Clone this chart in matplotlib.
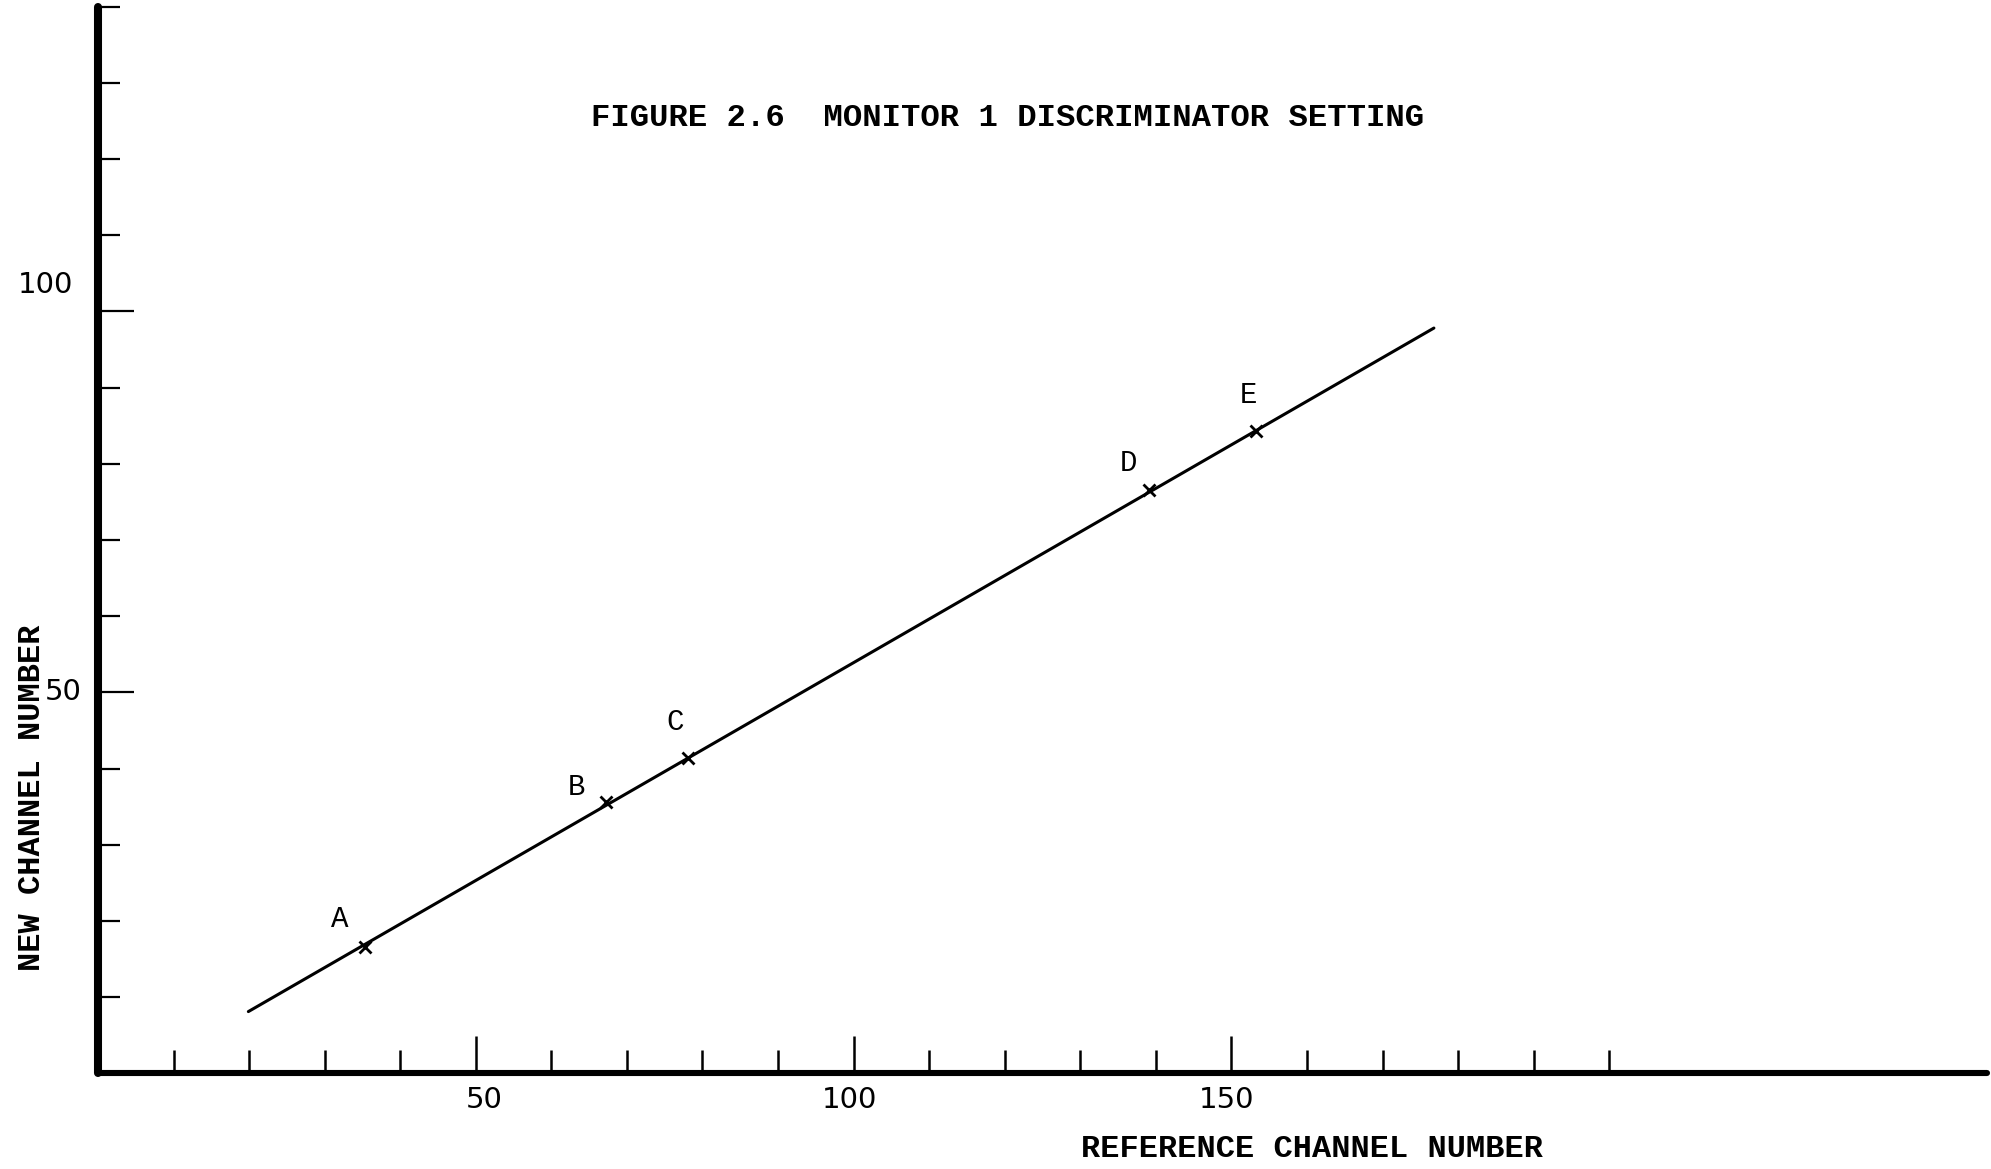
import matplotlib
matplotlib.use("Agg")
import matplotlib.pyplot as plt
from matplotlib.transforms import ScaledTranslation

# ---- data ----
point_names = ["A", "B", "C", "D", "E"]
ref_channel = [35.3, 67.2, 78.1, 139.1, 153.3]
new_channel = [16.6, 35.6, 41.4, 76.5, 84.3]

fit_x = [19.9, 176.8]
fit_y = [8.1, 97.8]

x_major = [50, 100, 150]
x_major_labels = ["50", "100", "150"]
x_minor = [10, 20, 30, 40, 60, 70, 80, 90, 110, 120, 130, 140, 160, 170, 180, 190, 200]

y_major = [50, 100]
y_major_labels = ["50", "100"]
y_minor = [10, 20, 30, 40, 60, 70, 80, 90, 110, 120, 130, 140]

title_text = "FIGURE 2.6  MONITOR 1 DISCRIMINATOR SETTING"
x_title = "REFERENCE CHANNEL NUMBER"
y_title = "NEW CHANNEL NUMBER"

# ---- figure ----
W, H = 1991, 1169
fig = plt.figure(figsize=(W / 100, H / 100), dpi=100)
fig.patch.set_facecolor("white")

ax = fig.add_axes([98 / W, 95.7 / H, 1889 / W, 1066.8 / H])
ax.set_xlim(0, 250)
ax.set_ylim(0, 140)
ax.set_facecolor("white")

for s in ("top", "right"):
    ax.spines[s].set_visible(False)
ax.spines["left"].set_linewidth(5.8)
ax.spines["bottom"].set_linewidth(4.4)
ax.spines["left"].set_capstyle("round")
ax.spines["bottom"].set_capstyle("round")

typewriter = {"family": "Liberation Mono", "weight": "bold"}
typewriter_plain = {"family": "Liberation Mono", "weight": "normal"}

ax.set_xticks(x_major, x_major_labels)
ax.set_xticks(x_minor, minor=True)
ax.set_yticks(y_major, y_major_labels)
ax.set_yticks(y_minor, minor=True)

ax.tick_params(axis="x", which="major", direction="in", length=27, width=1.8,
               pad=9, labelsize=21, color="black", labelcolor="black")
ax.tick_params(axis="x", which="minor", direction="in", length=16.5, width=1.8,
               color="black")
ax.tick_params(axis="y", which="major", direction="in", length=26, width=1.6,
               pad=12, labelsize=21, color="black", labelcolor="black")
ax.tick_params(axis="y", which="minor", direction="in", length=16, width=1.6,
               color="black")

for lab in ax.get_xticklabels() + ax.get_yticklabels():
    lab.set_fontfamily("DejaVu Sans")
    lab.set_fontweight("normal")

# small offsets of the hand-lettered tick labels
xoff = {"50": 8, "100": -4, "150": -5}
for lab in ax.get_xticklabels():
    t = lab.get_text()
    if t in xoff:
        lab.set_transform(lab.get_transform() +
                          ScaledTranslation(xoff[t] / 100, 0, fig.dpi_scale_trans))
yoff = {"50": (0, 3), "100": (-8, 29)}
for lab in ax.get_yticklabels():
    t = lab.get_text()
    if t in yoff:
        dx, dy = yoff[t]
        lab.set_transform(lab.get_transform() +
                          ScaledTranslation(dx / 100, dy / 100, fig.dpi_scale_trans))

# fitted line and measured points
ax.plot(fit_x, fit_y, color="black", linewidth=2.2, solid_capstyle="round")
ax.plot(ref_channel, new_channel, linestyle="none", marker="x", markersize=9,
        markeredgewidth=2.0, color="black")

label_offsets = [(-18, 20), (-21, 11), (-9.6, 26), (-15, 20), (-5.5, 26)]
for name, xv, yv, off in zip(point_names, ref_channel, new_channel, label_offsets):
    ax.annotate(name, (xv, yv), xytext=off, textcoords="offset points",
                ha="center", va="center", fontsize=21, **typewriter_plain)

fig.text(1007.6 / W, 1 - 118 / H, title_text, ha="center", va="center",
         fontsize=23.2, **typewriter)
fig.text(1311.7 / W, 1 - 1149.2 / H, x_title, ha="center", va="center",
         fontsize=23, **typewriter)
fig.text(32.5 / W, 1 - 797.4 / H, y_title, ha="center", va="center",
         rotation=90, fontsize=23, **typewriter)

fig.savefig("out.png", dpi=100, facecolor="white")
